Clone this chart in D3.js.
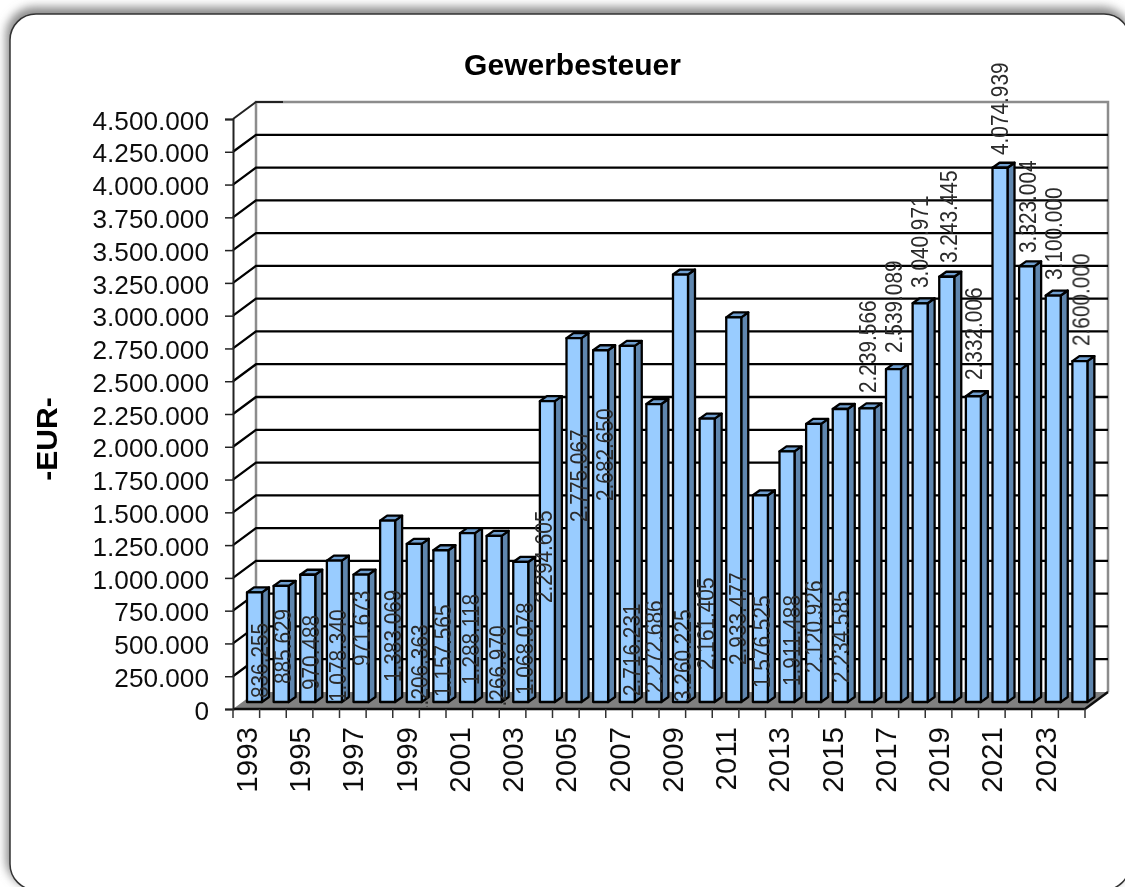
<!DOCTYPE html>
<html>
<head>
<meta charset="utf-8">
<script src="https://cdn.jsdelivr.net/npm/d3@7"></script>
<style>
	html, body { margin: 0; padding: 0; background: #fff; overflow: hidden; }
	text { font-family: "Liberation Sans", Arial, sans-serif; }
</style>
</head>
<body>
<svg id="graph" width="1125" height="887"></svg>
<script>
const years = d3.range(1993, 2025);
const values = [
	836255, 885629, 970488, 1078340, 971673, 1383069, 1206363, 1157565,
	1288118, 1266970, 1068078, 2294605, 2775067, 2682650, 2716231, 2272686,
	3260225, 2161405, 2933477, 1576525, 1911488, 2120926, 2234585, 2239566,
	2539089, 3040971, 3243445, 2332006, 4074939, 3323004, 3100000, 2600000,
];
// value on the axis where each data label begins (the labels were dragged by hand in the original)
const labelStarts = [
	30000, 137000, 91000, 0, 275000, 152000, -114000, 38000,
	130000, -122000, 53000, 755000, 1373000, 1533000, 46000, 69000,
	0, 244000, 282000, 107000, 122000, 221000, 145000, 2357000,
	2662000, 3158000, 3348000, 2456000, 4172000, 3425000, 3219000, 2715000,
];
// same reason: how far each label sits from its bar's left edge
const labelNudges = [
	13, 9.4, 10, 11, 8.5, 12, 13, 9.6,
	11, 11.4, 11.7, 4, 12.5, 11, 12, 7.5,
	10, 6, 11, 9, 12, 7, 8, 8.6,
	8, 7.4, 8.8, 8, 7.5, 8, 8, 8.6,
];
const yTicks = d3.range(0, 4500001, 250000);

const w = 1125;
const h = 887;
const svg = d3.select("#graph");
const defs = svg.append("defs");

// card shadow falls up and to the left
const shadow = defs.append("filter").attr("id", "shadow")
	.attr("x", "-5%").attr("y", "-5%").attr("width", "110%").attr("height", "110%");
shadow.append("feGaussianBlur").attr("stdDeviation", 5);

// the original is a slightly soft screenshot
const soft = defs.append("filter").attr("id", "soft");
soft.append("feGaussianBlur").attr("stdDeviation", 0.45);

defs.append("clipPath").attr("id", "plot-clip")
	.append("rect").attr("x", 0).attr("y", 0).attr("width", w).attr("height", 707);

svg.append("rect")
	.attr("x", 6).attr("y", 7).attr("width", 1124).attr("height", 880).attr("rx", 28)
	.attr("fill", "#8a8a8a").attr("filter", "url(#shadow)");
svg.append("rect")
	.attr("x", 10).attr("y", 14).attr("width", 1120).attr("height", 876).attr("rx", 26)
	.attr("fill", "#fff").attr("stroke", "#333").attr("stroke-width", 1.5);

const chart = svg.append("g").attr("filter", "url(#soft)");

// front edge of the box, the back wall sits depthX/depthY behind it
const left = 233;
const right = 1085;
const depthX = 23;
const depthY = 17;

const x = d3.scaleBand().domain(years).range([left, right]);
const y = d3.scaleLinear().domain([0, 4500000]).range([709, 119]);
const de = d3.formatLocale({ decimal: ",", thousands: ".", grouping: [3], currency: ["", "€"] });

// walls
chart.append("path")
	.attr("d", `M${left + depthX},${y(0) - depthY}V${y(4500000) - depthY}H${right + depthX}V${y(0) - depthY}`)
	.attr("fill", "none").attr("stroke", "#8c8c8c").attr("stroke-width", 2.5);

// gridlines run along the left wall and then the back wall
chart.selectAll(".grid")
	.data(yTicks.filter((d) => d > 0 && d < 4500000))
	.enter()
	.append("path")
	.attr("class", "grid")
	.attr("d", (d) => `M${left},${y(d)}L${left + depthX},${y(d) - depthY}H${right + depthX}`)
	.attr("fill", "none").attr("stroke", "#000").attr("stroke-width", 2.3);
chart.append("path")
	.attr("d", `M${left},${y(4500000)}L${left + depthX},${y(4500000) - depthY}H${left + 50}`)
	.attr("fill", "none").attr("stroke", "#222").attr("stroke-width", 2);

// floor
chart.append("path")
	.attr("d", `M${left},${y(0)}L${left + depthX},${y(0) - depthY}H${right + depthX}L${right},${y(0)}Z`)
	.attr("fill", "#808080");
chart.append("path")
	.attr("d", `M${left},${y(0)}H${right}L${right + depthX},${y(0) - depthY}`)
	.attr("fill", "none").attr("stroke", "#111").attr("stroke-width", 2.5);

// bars stand a little behind the front edge of the floor
const barInset = 14;
const barW = 15;
const barDX = 7;
const barDY = 5;
const barBase = y(0) - 7;
const barX = (d) => x(d) + barInset;
const barTop = (d, i) => y(values[i]) - 7;

const bars = chart.selectAll(".bar").data(years).enter().append("g").attr("class", "bar")
	.attr("stroke", "#000").attr("stroke-width", 2.3).attr("stroke-linejoin", "round");
bars.append("path")
	.attr("fill", "#5f86ae")
	.attr("d", (d, i) => `M${barX(d) + barW},${barBase}V${barTop(d, i)}l${barDX},${-barDY}V${barBase - barDY}Z`);
bars.append("path")
	.attr("fill", "#6f9fd0")
	.attr("d", (d, i) => `M${barX(d)},${barTop(d, i)}l${barDX},${-barDY}h${barW}l${-barDX},${barDY}Z`);
bars.append("rect")
	.attr("fill", "#99ccff")
	.attr("x", barX)
	.attr("y", barTop)
	.attr("width", barW)
	.attr("height", (d, i) => barBase - barTop(d, i));

// axes
const yAxis = d3.axisLeft(y).tickValues(yTicks).tickSize(8).tickFormat(de.format(",d"));
const yG = chart.append("g").attr("transform", `translate(${left},0)`).call(yAxis);
yG.select(".domain").attr("stroke", "#222").attr("stroke-width", 2);
yG.selectAll(".tick line").attr("stroke", "#222").attr("stroke-width", 1.5);
yG.selectAll(".tick text")
	.attr("x", -24).attr("y", 0.5).attr("dy", "0.37em")
	.style("font-size", "26.2px").attr("fill", "#111");

const xAxis = d3.axisBottom(x)
	.tickValues(years.filter((d) => (d - 1993) % 2 === 0))
	.tickSize(0).tickFormat(d3.format("d"));
const xG = chart.append("g").attr("transform", `translate(0,${y(0)})`).call(xAxis);
xG.select(".domain").remove();
xG.selectAll(".tick text")
	.attr("transform", "rotate(-90)")
	.attr("x", -18).attr("y", 0).attr("dy", "0.36em")
	.attr("text-anchor", "end")
	.style("font-size", "29.5px").attr("fill", "#111");
chart.selectAll(".edge-tick")
	.data(years.concat([2025]))
	.enter()
	.append("line")
	.attr("class", "edge-tick")
	.attr("x1", (d) => (d === 2025 ? right : x(d)))
	.attr("x2", (d) => (d === 2025 ? right : x(d)))
	.attr("y1", y(0))
	.attr("y2", y(0) + 9)
	.attr("stroke", "#333").attr("stroke-width", 1.5);

// data labels, a bit stretched across like the original
chart.append("g").attr("clip-path", "url(#plot-clip)")
	.selectAll("text")
	.data(years)
	.enter()
	.append("text")
	.attr("transform", (d, i) => `translate(${barX(d) + labelNudges[i]},${y(labelStarts[i]) - 7}) rotate(-90) scale(1,1.13)`)
	.attr("dy", "0.36em")
	.style("font-size", "20.8px")
	.attr("fill", "#2b2b2b")
	.text((d, i) => de.format(",d")(values[i]));

// titles
chart.append("text")
	.attr("x", 572.5).attr("y", 75)
	.attr("text-anchor", "middle")
	.style("font-size", "30px").style("font-weight", "bold")
	.text("Gewerbesteuer");
chart.append("text")
	.attr("transform", "translate(57,439) rotate(-90)")
	.attr("text-anchor", "middle")
	.style("font-size", "30px").style("font-weight", "bold")
	.text("-EUR-");
</script>
</body>
</html>
